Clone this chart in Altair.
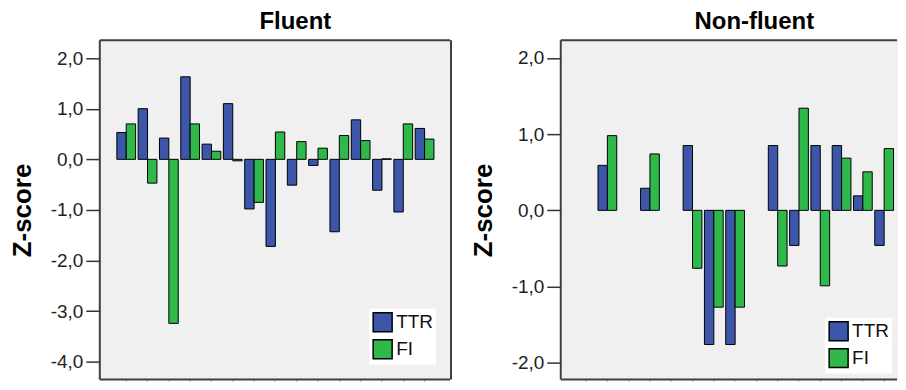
import altair as alt
import pandas as pd

# ---- data ----
slots = [str(i) for i in range(1, 16)]
measures = ["TTR", "FI"]

fluent_ttr = [0.53, 1.00, 0.42, 1.63, 0.30, 1.10, -0.98, -1.72, -0.51, -0.12, -1.43, 0.78, -0.61, -1.04, 0.61]
fluent_fi = [0.70, -0.47, -3.24, 0.70, 0.16, -0.03, -0.85, 0.54, 0.35, 0.22, 0.47, 0.37, 0.01, 0.70, 0.40]

nonfluent_ttr = [None, 0.59, None, 0.29, None, 0.85, -1.76, -1.76, None, 0.85, -0.46, 0.85, 0.85, 0.19, -0.46]
nonfluent_fi = [None, 0.98, None, 0.74, None, -0.76, -1.27, -1.27, None, -0.73, 1.34, -0.99, 0.685, 0.505, 0.81]

fluent_ticks = [-4, -3, -2, -1, 0, 1, 2]
nonfluent_ticks = [-2, -1, 0, 1, 2]

BLUE = "#3C56AA"
GREEN = "#2EB94A"
FRAME = "#3f3f3f"
FONT = "Liberation Sans"
PANEL_H = 340


def long_df(ttr, fi):
    rows = []
    for s, t, f in zip(slots, ttr, fi):
        if t is not None:
            rows.append({"participant": s, "measure": "TTR", "z": t})
        if f is not None:
            rows.append({"participant": s, "measure": "FI", "z": f})
    return pd.DataFrame(rows)


label_expr = "replace(replace(format(datum.value, '.1f'), '.', ','), '\u2212', '-')"
frame_src = pd.DataFrame({"k": [0]})


def panel(df, title, ymin, ymax, ticks, width, pad_outer, align, dx, legend_offset, right_border):
    bars = alt.Chart(df).mark_bar(stroke="black", strokeWidth=1).encode(
        x=alt.X(
            "participant:N",
            sort=slots,
            scale=alt.Scale(domain=slots, paddingInner=0.12, paddingOuter=pad_outer, align=align),
            axis=alt.Axis(labels=False, title=None, domain=False, ticks=True,
                          tickSize=2, tickColor="#b5b5b5", tickWidth=1),
        ),
        xOffset=alt.XOffset("measure:N", sort=measures,
                            scale=alt.Scale(domain=measures, paddingInner=0, paddingOuter=0)),
        y=alt.Y(
            "z:Q",
            scale=alt.Scale(domain=[ymin, ymax], nice=False),
            axis=alt.Axis(values=ticks, title="Z-score", labelExpr=label_expr, grid=False,
                          domain=False, tickSize=14, tickWidth=1.5, tickColor="#333333",
                          labelFont=FONT, labelFontSize=19, labelColor="#222222",
                          labelPadding=3, titleFont=FONT, titleFontSize=26,
                          titleFontWeight="bold", titleColor="#000000", titlePadding=15),
        ),
        color=alt.Color(
            "measure:N",
            sort=measures,
            scale=alt.Scale(domain=measures, range=[BLUE, GREEN]),
            legend=alt.Legend(orient="bottom-right", title=None, fillColor="white",
                              padding=3, offset=legend_offset, symbolType="square",
                              symbolSize=361, symbolStrokeColor="black", symbolStrokeWidth=1.5,
                              labelFont=FONT, labelFontSize=19, labelColor="#111111",
                              rowPadding=2, labelOffset=3),
        ),
    )
    edge = alt.Chart(frame_src).mark_rule(color=FRAME, strokeWidth=2)
    top = edge.encode(x=alt.value(0), x2=alt.value(width - 1), y=alt.value(0))
    bottom = edge.encode(x=alt.value(0), x2=alt.value(width - 1), y=alt.value(PANEL_H))
    left_e = edge.encode(x=alt.value(0), y=alt.value(0), y2=alt.value(PANEL_H))
    layers = [bars, top, bottom, left_e]
    if right_border:
        layers.append(edge.encode(x=alt.value(width), y=alt.value(0), y2=alt.value(PANEL_H)))
    return alt.layer(*layers).properties(
        width=width,
        height=PANEL_H,
        title=alt.TitleParams(title, dx=dx, font=FONT, fontSize=24, fontWeight="bold",
                              color="#000000", offset=5),
    )


left = panel(long_df(fluent_ttr, fluent_fi), "Fluent", -4.35, 2.35, fluent_ticks,
             352, 0.8, 0.5, 20, 15, True)
right = panel(long_df(nonfluent_ttr, nonfluent_fi), "Non-fluent", -2.22, 2.23, nonfluent_ticks,
              338, 0.48, 0.78, 25, 6, False)

chart = alt.hconcat(left, right, spacing=18).resolve_legend(color="independent").resolve_scale(
    y="independent", x="independent"
).configure_view(
    fill="#F0F0F0", strokeWidth=0
).properties(
    padding={"left": 1, "top": 2, "right": 0, "bottom": 0}
)

chart.save("out.html", embed_options={"renderer": "svg", "actions": False})
